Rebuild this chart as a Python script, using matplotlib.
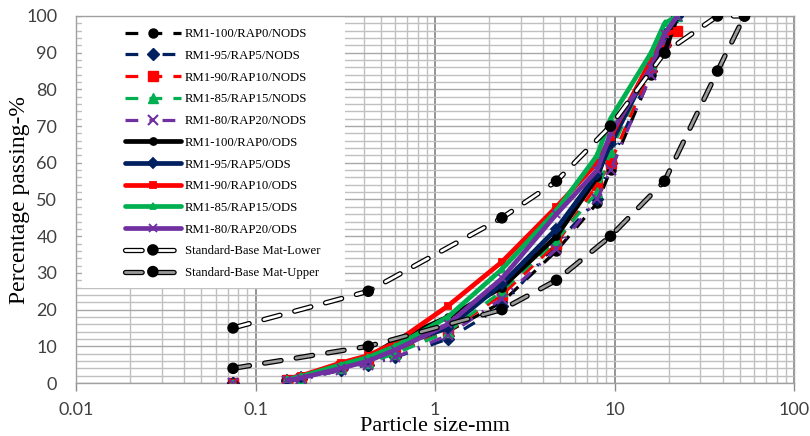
import numpy as np
import matplotlib
matplotlib.use("Agg")
import matplotlib.pyplot as plt
from matplotlib.ticker import FixedLocator, FixedFormatter, NullFormatter, MultipleLocator
from matplotlib.patches import Rectangle
import matplotlib.patheffects as pe

# ---------------- data ----------------
sieve_mm = [0.075, 0.15, 0.18, 0.3, 0.425, 0.6, 1.18, 2.36, 4.75, 8, 9.5, 16, 19, 22.4]

nods_rap0 = [0, 0.8, 1.3, 4.5, 6.0, 8.5, 14, 22, 36, 49, 58, 84, 90, 100]
nods_rap5 = [0, 0.5, 1.0, 3.5, 5.0, 7.0, 12, 21, 38, 50, 60, 85, 92, 100]
nods_rap10 = [0, 0.8, 1.4, 4.5, 6.0, 8.5, 14, 24, 38, 54, 60, 86, 93, 96]
nods_rap15 = [0, 0.7, 1.2, 4.0, 5.5, 8.0, 14, 25, 39, 52, 63, 87, 95, 100]
nods_rap20 = [0, 0.5, 1.0, 3.5, 5.0, 7.0, 13, 23, 36.5, 50, 58, 84, 93, 100]

ods_rap0 = [0, 1.0, 1.8, 5.0, 7.0, 11.5, 18, 26, 40, 56, 66, 88, 90, 100]
ods_rap5 = [0, 0.8, 1.5, 4.5, 6.5, 10.0, 15, 27, 42, 57, 65, 87, 95, 100]
ods_rap10 = [0, 1.2, 2.0, 5.5, 7.5, 11.0, 21, 33, 48, 60, 67, 88, 95, 96]
ods_rap15 = [0, 1.0, 1.8, 5.0, 7.0, 10.0, 18, 31, 47, 62, 72, 90, 98, 100]
ods_rap20 = [0, 0.7, 1.4, 4.0, 6.0, 9.0, 16, 28.5, 46, 58, 68, 86, 95, 100]

std_sieve_mm = [0.075, 0.425, 2.36, 4.75, 9.5, 19, 37.5, 53]
std_lower = [15, 25, 45, 55, 70, 90, 100, 100]
std_upper = [4, 10, 20, 28, 40, 55, 85, 100]

labels = ["RM1-100/RAP0/NODS", "RM1-95/RAP5/NODS", "RM1-90/RAP10/NODS",
          "RM1-85/RAP15/NODS", "RM1-80/RAP20/NODS",
          "RM1-100/RAP0/ODS", "RM1-95/RAP5/ODS", "RM1-90/RAP10/ODS",
          "RM1-85/RAP15/ODS", "RM1-80/RAP20/ODS",
          "Standard-Base Mat-Lower", "Standard-Base Mat-Upper"]

x_tick_vals = [0.01, 0.1, 1, 10, 100]
x_tick_labels = ["0.01", "0.1", "1", "10", "100"]

# ---------------- styling ----------------
colors = ["#000000", "#002060", "#ff0000", "#00b050", "#7030a0"]
markers = ["o", "D", "s", "^", "x"]
nods_dashes = [(4, 3.5), (4, 3.5, 0.6, 3.5), (4, 3.5), (4, 3.5), (4, 3.5, 0.6, 3.5)]

fig = plt.figure(figsize=(8.1, 4.36), dpi=100)
ax = fig.add_axes([76 / 810, 1 - 383 / 436, 718 / 810, 367 / 436])
ax.set_xscale("log")
ax.set_xlim(0.01, 100)
ax.set_ylim(0, 100)
ax.set_axisbelow(True)

x = np.array(sieve_mm)
handles = []

nods = [nods_rap0, nods_rap5, nods_rap10, nods_rap15, nods_rap20]
ods = [ods_rap0, ods_rap5, ods_rap10, ods_rap15, ods_rap20]

for i, vals in enumerate(nods):
    v = np.array(vals, dtype=float)
    ms = 6.5 if markers[i] != "x" else 7
    (h,) = ax.plot(x[1:], v[1:], color=colors[i], lw=2.3, dashes=nods_dashes[i],
                   marker=markers[i], ms=ms, mew=1.5 if markers[i] == "x" else 1,
                   zorder=3 + i * 0.01)
    ax.plot(x[:1], v[:1], ls="none", color=colors[i], marker=markers[i], ms=ms,
            mew=1.5 if markers[i] == "x" else 1, zorder=3 + i * 0.01)
    handles.append(h)

for i, vals in enumerate(ods):
    v = np.array(vals, dtype=float)
    ms = 5 if markers[i] != "x" else 6
    (h,) = ax.plot(x[1:], v[1:], color=colors[i], lw=3.4, solid_capstyle="round",
                   marker=markers[i], ms=ms, mew=1.3, zorder=4 + i * 0.01)
    ax.plot(x[:1], v[:1], ls="none", color=colors[i], marker=markers[i], ms=ms,
            mew=1.3, zorder=4 + i * 0.01)
    handles.append(h)

sx = np.array(std_sieve_mm)
for vals, fill in [(std_lower, "#ffffff"), (std_upper, "#9a9a9a")]:
    (h,) = ax.plot(sx, vals, color=fill, lw=2.0, dashes=(6, 5.5),
                   dash_capstyle="round", marker="o", ms=4.5,
                   mfc="black", mec="black", zorder=5,
                   path_effects=[pe.Stroke(linewidth=3.8, foreground="black"), pe.Normal()])
    handles.append(h)

# white legend backdrop (covers gridlines)
ax.add_patch(Rectangle((0.008, 0.259), 0.367, 0.738, transform=ax.transAxes,
                       facecolor="white", edgecolor="none", zorder=1))

# ticks and grid
ax.xaxis.set_major_locator(FixedLocator(x_tick_vals))
ax.xaxis.set_major_formatter(FixedFormatter(x_tick_labels))
ax.xaxis.set_minor_formatter(NullFormatter())
ax.yaxis.set_major_locator(MultipleLocator(10))
ax.yaxis.set_minor_locator(MultipleLocator(2))

ax.grid(which="minor", color="#c0c0c0", lw=1.0)
ax.grid(which="major", axis="y", color="#a8a8a8", lw=1.0)
ax.grid(which="major", axis="x", color="#8c8c8c", lw=1.3)

ax.tick_params(axis="x", which="major", length=6, width=1, color="#8c8c8c",
               pad=7.5, labelcolor="#404040")
ax.tick_params(axis="x", which="minor", length=0)
ax.tick_params(axis="y", which="both", length=0, pad=13.5, labelcolor="#404040")
for lab in ax.get_xticklabels() + ax.get_yticklabels():
    lab.set_fontfamily("Lato")
    lab.set_fontsize(13)

for s in ax.spines.values():
    s.set_color("#a0a0a0")
    s.set_linewidth(1.0)

fig.text(20 / 810, 1 - 200 / 436, "Percentage passing-%", rotation=90,
         ha="center", va="center", family="Liberation Serif", size=17)
fig.text(435 / 810, 1 - 426 / 436, "Particle size-mm",
         ha="center", va="center", family="Liberation Serif", size=16)

leg = ax.legend(handles, labels, loc="upper left", bbox_to_anchor=(0.059, 0.984),
                frameon=False, borderpad=0, handlelength=4.4, handletextpad=0.3,
                labelspacing=0.76, prop=dict(family="Liberation Serif", size=9.2))
leg.set_zorder(6)

fig.savefig("out.png", dpi=100)
